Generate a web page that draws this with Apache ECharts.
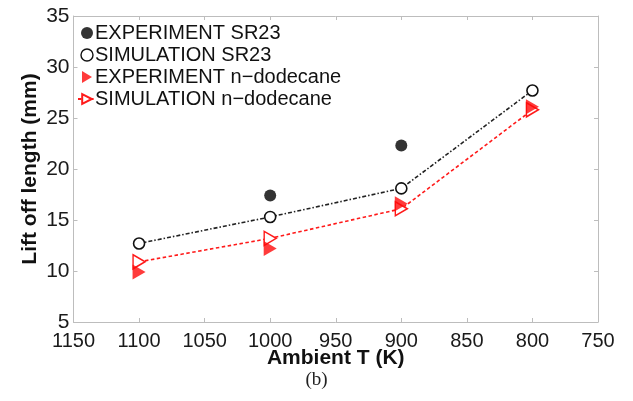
<!DOCTYPE html>
<html>
<head>
<meta charset="utf-8">
<script src="https://cdn.jsdelivr.net/npm/echarts@6/dist/echarts.min.js"></script>
<style>
html,body{margin:0;padding:0;background:#fff;}
#c{width:633px;height:401px;}
</style>
</head>
<body>
<div id="c"></div>
<script>
// Data
const ambientT = [1100, 1000, 900, 800];
const expSR23T = [1000, 900];
const expSR23 = [17.4, 22.3];
const simSR23 = [12.7, 15.3, 18.1, 27.7];
const expDodecane = [9.9, 12.2, 16.6, 26.1];
const simDodecane = [10.9, 13.2, 16.1, 25.8];
const xTicks = {min: 750, max: 1150, interval: 50};
const yTicks = {min: 5, max: 35, interval: 5};

const pair = (xs, ys) => xs.map((x, i) => [x, ys[i]]);
const triPath = 'path://M0,0L10,6L0,12Z';
const font = 'Liberation Sans, Arial, Helvetica, sans-serif';
const axisGrey = '#bdbdbd';
const plain = v => String(v);

const chart = echarts.init(document.getElementById('c'));
const baseX = {
  type: 'value', min: xTicks.min, max: xTicks.max, interval: xTicks.interval, inverse: true,
  splitLine: {show: false},
  axisLine: {show: true, lineStyle: {color: axisGrey, width: 1}},
  axisTick: {show: true, inside: true, length: 4, lineStyle: {color: axisGrey}},
};
const baseY = {
  type: 'value', min: yTicks.min, max: yTicks.max, interval: yTicks.interval,
  splitLine: {show: false},
  axisLine: {show: true, lineStyle: {color: axisGrey, width: 1}},
  axisTick: {show: true, inside: true, length: 4, lineStyle: {color: axisGrey}},
};
chart.setOption({
  animation: false,
  backgroundColor: '#fff',
  textStyle: {fontFamily: font},
  grid: {left: 73.5, right: 35, top: 16, bottom: 79, containLabel: false},
  title: {
    text: '(b)', left: 'center', top: 371,
    textStyle: {fontFamily: 'Liberation Serif, Times New Roman, serif', fontSize: 19, fontWeight: 'normal', color: '#222'},
    padding: 0, itemGap: 0
  },
  legend: {
    orient: 'vertical', left: 72, top: 18, itemGap: 2, itemWidth: 18, itemHeight: 12,
    textStyle: {fontFamily: font, fontSize: 20, color: '#111', padding: [0, 0, 0, -6]},
    data: [
      {name: 'EXPERIMENT SR23'},
      {name: 'SIMULATION SR23', icon: 'circle', itemStyle: {color: '#fff', borderColor: '#111', borderWidth: 1.4}},
      {name: 'EXPERIMENT n\u2212dodecane'},
      {name: 'SIMULATION n\u2212dodecane'}
    ]
  },
  xAxis: [
    Object.assign({}, baseX, {
      position: 'bottom',
      name: 'Ambient T (K)', nameLocation: 'middle', nameGap: 26, nameMoveOverlap: false,
      nameTextStyle: {fontFamily: font, fontSize: 21, fontWeight: 'bold', color: '#111'},
      axisLabel: {fontFamily: font, fontSize: 20, color: '#1a1a1a', margin: 9, formatter: plain}
    }),
    Object.assign({}, baseX, {position: 'top', axisLabel: {show: false}})
  ],
  yAxis: [
    Object.assign({}, baseY, {
      position: 'left',
      name: 'Lift off length (mm)', nameLocation: 'middle', nameGap: 33, nameMoveOverlap: false,
      nameTextStyle: {fontFamily: font, fontSize: 21, fontWeight: 'bold', color: '#111'},
      axisLabel: {fontFamily: font, fontSize: 21, color: '#1a1a1a', margin: 4, formatter: plain}
    }),
    Object.assign({}, baseY, {position: 'right', axisLabel: {show: false}})
  ],
  series: [
    {
      name: 'SIMULATION SR23', type: 'line', data: pair(ambientT, simSR23),
      symbol: 'circle', symbolSize: 11,
      itemStyle: {color: '#fff', borderColor: '#111', borderWidth: 1.6},
      lineStyle: {color: '#222', width: 1.6, type: [4, 2, 1.5, 2]},
      z: 2
    },
    {
      name: 'SIMULATION n\u2212dodecane', type: 'line', data: pair(ambientT, simDodecane),
      symbol: triPath, symbolSize: [12, 14],
      itemStyle: {color: '#fff', borderColor: '#ff1a1a', borderWidth: 1.5},
      lineStyle: {color: '#ff1a1a', width: 1.6, type: [3.5, 2.5]},
      z: 2
    },
    {
      name: 'EXPERIMENT SR23', type: 'scatter', data: pair(expSR23T, expSR23),
      symbol: 'circle', symbolSize: 12,
      itemStyle: {color: '#000'}, z: 3
    },
    {
      name: 'EXPERIMENT n\u2212dodecane', type: 'scatter', data: pair(ambientT, expDodecane),
      symbol: triPath, symbolSize: [13, 15],
      itemStyle: {color: '#ff0a0a'}, z: 3
    }
  ]
});
</script>
</body>
</html>
